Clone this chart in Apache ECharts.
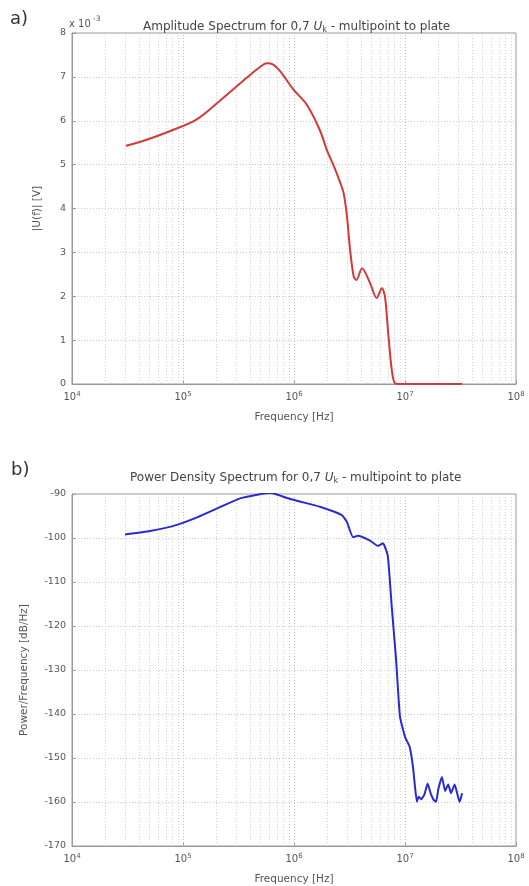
<!DOCTYPE html>
<html>
<head>
<meta charset="utf-8">
<script src="https://cdn.jsdelivr.net/npm/echarts@6/dist/echarts.min.js"></script>
<style>
html,body{margin:0;padding:0;background:#fff;}
#c{width:529px;height:886px;}
</style>
</head>
<body>
<div id="c"></div>
<script>
// ---- data ----
const ampFreq = [3.05e4, 4.5e4, 7.6e4, 1.33e5, 2.3e5, 3.75e5, 4.9e5, 5.7e5, 6.5e5, 7.5e5, 9.9e5, 1.3e6, 1.7e6, 2.0e6, 2.3e6, 2.6e6, 2.8e6, 3.0e6, 3.2e6, 3.45e6, 3.65e6, 4.1e6, 4.85e6, 5.55e6, 6.2e6, 6.6e6, 7.1e6, 7.6e6, 8.1e6, 9.0e6, 3.27e7];
const ampVal  = [5.43, 5.55, 5.76, 6.03, 6.52, 6.98, 7.22, 7.31, 7.28, 7.13, 6.71, 6.37, 5.80, 5.30, 4.95, 4.60, 4.35, 3.82, 3.06, 2.45, 2.37, 2.64, 2.30, 1.96, 2.18, 1.99, 1.08, 0.32, 0.02, 0, 0];

const psdFreq = [3.0e4, 5.05e4, 8.1e4, 1.34e5, 2.15e5, 3.27e5, 4.8e5, 6.1e5, 7.0e5, 8.6e5, 1.13e6, 1.71e6, 2.7e6, 3.0e6, 3.4e6, 3.78e6, 4.84e6, 5.7e6, 6.34e6, 7.0e6, 7.6e6, 8.3e6, 9.0e6, 1.0e7, 1.1e7, 1.18e7, 1.23e7, 1.28e7, 1.33e7, 1.4e7, 1.5e7, 1.6e7, 1.7e7, 1.8e7, 1.9e7, 2.0e7, 2.15e7, 2.3e7, 2.45e7, 2.6e7, 2.8e7, 2.95e7, 3.1e7, 3.27e7];
const psdVal  = [-99.2, -98.4, -97.3, -95.3, -93.0, -91.0, -90.1, -89.8, -90.1, -90.9, -91.7, -92.9, -94.8, -96.4, -99.8, -99.5, -100.6, -101.8, -101.2, -104.1, -115.7, -127.4, -140.5, -145.2, -147.4, -152.0, -156.5, -159.9, -158.8, -159.4, -158.2, -155.8, -158.0, -159.4, -160.0, -157.0, -154.3, -157.5, -156.0, -158.0, -156.0, -158.0, -160.0, -158.0];

const xTickExp = {4: '4', 5: '5', 6: '6', 7: '7', 8: '8'};
const decades = [1e4, 1e5, 1e6, 1e7];
const minorMult = [2, 3, 4, 5, 6, 7, 8, 9];

const titleA = ['Amplitude Spectrum for 0,7 ', ' - multipoint to plate'];
const titleB = ['Power Density Spectrum for 0,7 ', ' - multipoint to plate'];

// ---- build ----
const FONT = 'DejaVu Sans, Liberation Sans, sans-serif';
const TXT = '#555';
const minorLines = [];
decades.forEach(d => minorMult.forEach(m => minorLines.push({xAxis: m * d})));
const majorLines = [1e5, 1e6, 1e7].map(v => ({xAxis: v}));

function xAxisCfg(idx) {
  return {
    type: 'log', logBase: 10, gridIndex: idx, min: 1e4, max: 1e8,
    name: 'Frequency [Hz]', nameLocation: 'middle', nameGap: 28,
    nameTextStyle: {color: TXT, fontSize: 10.5, fontFamily: FONT},
    axisLine: {show: true, lineStyle: {color: '#999'}},
    axisTick: {show: true, inside: true, length: 4, lineStyle: {color: '#999'}},
    axisLabel: {color: TXT, fontSize: 10, fontFamily: FONT, margin: 7,
      formatter: v => '{b|10}{s|' + (xTickExp[Math.round(Math.log10(v))] || '') + '}',
      rich: {
        b: {fontSize: 10, color: TXT, fontFamily: FONT},
        s: {fontSize: 7, color: TXT, fontFamily: FONT, padding: [0, 0, 6, 0]}
      }},
    splitLine: {show: false}
  };
}
function yAxisCfg(idx, min, max, interval, name, gap) {
  return {
    type: 'value', gridIndex: idx, min: min, max: max, interval: interval,
    name: name, nameLocation: 'middle', nameGap: gap, nameRotate: 90,
    nameTextStyle: {color: TXT, fontSize: 10.5, fontFamily: FONT},
    axisLine: {show: true, lineStyle: {color: '#999'}},
    axisTick: {show: true, inside: true, length: 4, lineStyle: {color: '#999'}},
    axisLabel: {color: TXT, fontSize: 9.5, fontFamily: FONT, margin: 6},
    splitLine: {show: true, lineStyle: {color: '#ccc', type: [1, 2], width: 1}}
  };
}
function gridSeries(idx) {
  return {
    type: 'line', xAxisIndex: idx, yAxisIndex: idx, data: [], z: 1, silent: true,
    markLine: {
      silent: true, symbol: 'none', animation: false,
      label: {show: false},
      lineStyle: {color: '#d4d4d4', type: [1, 2], width: 1},
      data: minorLines.concat(majorLines.map(m => Object.assign({lineStyle: {color: '#bbb', type: [1, 2]}}, m)))
    }
  };
}
const richTitle = {
  n: {fontSize: 12, color: '#444', fontFamily: FONT, fontWeight: 'normal'},
  i: {fontSize: 12, color: '#444', fontFamily: FONT, fontStyle: 'italic', fontWeight: 'normal'},
  s: {fontSize: 8, color: '#444', fontFamily: FONT, fontWeight: 'normal', padding: [7, 0, 0, 0]}
};

const option = {
  animation: false,
  backgroundColor: '#fff',
  title: [
    {text: '{n|' + titleA[0] + '}{i|U}{s|k}{n|' + titleA[1] + '}', left: 138, top: 14,
      textStyle: {fontWeight: 'normal', rich: richTitle}},
    {text: '{n|' + titleB[0] + '}{i|U}{s|k}{n|' + titleB[1] + '}', left: 125, top: 465,
      textStyle: {fontWeight: 'normal', rich: richTitle}}
  ],
  graphic: [
    {type: 'text', left: 10, top: 10, style: {text: 'a)', fontSize: 18, fontFamily: FONT, fill: '#333'}},
    {type: 'text', left: 11, top: 461, style: {text: 'b)', fontSize: 18, fontFamily: FONT, fill: '#333'}},
    {type: 'text', left: 69, top: 19, style: {text: 'x 10', fontSize: 10, fontFamily: FONT, fill: TXT}},
    {type: 'text', left: 93, top: 15, style: {text: '-3', fontSize: 7.5, fontFamily: FONT, fill: TXT}}
  ],
  grid: [
    {left: 72, top: 33, width: 444, height: 351, show: true, borderColor: '#999', borderWidth: 1, containLabel: false},
    {left: 72, top: 494, width: 444, height: 352, show: true, borderColor: '#999', borderWidth: 1, containLabel: false}
  ],
  xAxis: [xAxisCfg(0), xAxisCfg(1)],
  yAxis: [
    yAxisCfg(0, 0, 8, 1, '|U(f)| [V]', 29),
    yAxisCfg(1, -170, -90, 10, 'Power/Frequency [dB/Hz]', 42)
  ],
  series: [
    gridSeries(0),
    gridSeries(1),
    {type: 'line', xAxisIndex: 0, yAxisIndex: 0, showSymbol: false, smooth: 0.3,
      lineStyle: {color: '#d23a3a', width: 2},
      data: ampFreq.map((f, i) => [f, ampVal[i]]), z: 5},
    {type: 'line', xAxisIndex: 1, yAxisIndex: 1, showSymbol: false, smooth: 0.15,
      lineStyle: {color: '#2a2ad2', width: 2},
      data: psdFreq.map((f, i) => [f, psdVal[i]]), z: 5}
  ]
};
const chart = echarts.init(document.getElementById('c'), null, {renderer: 'canvas'});
chart.setOption(option);
</script>
</body>
</html>
